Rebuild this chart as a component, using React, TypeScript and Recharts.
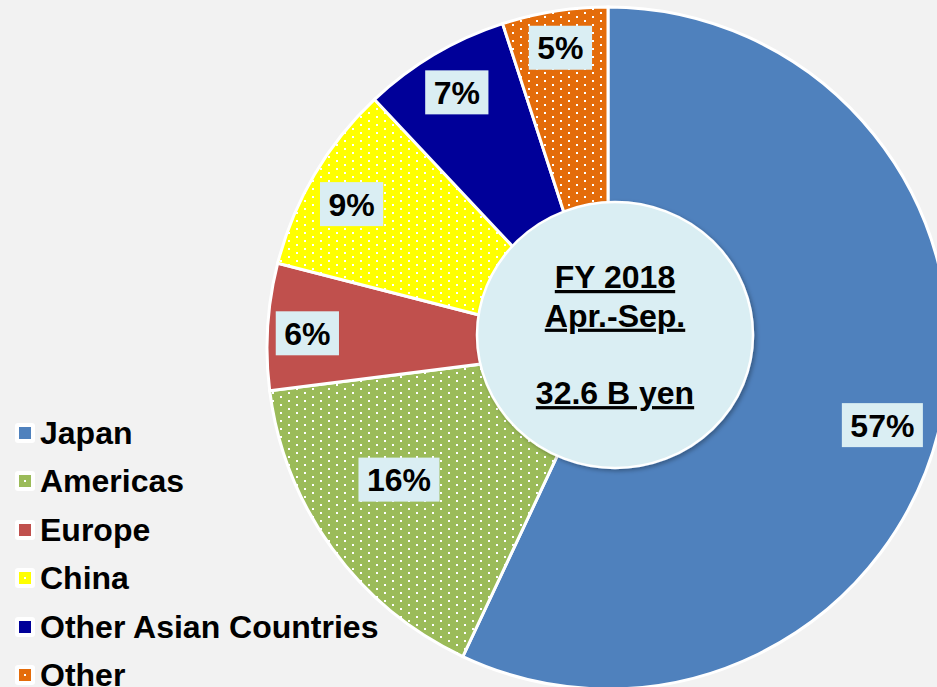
import { PieChart, Pie, Cell } from 'recharts';

const regions = ['Japan', 'Americas', 'Europe', 'China', 'Other Asian Countries', 'Other'];
const shares = [57, 16, 6, 9, 7, 5];
const colors = ['#4F81BD', '#9BBB59', '#C0504D', '#FFFF00', '#000099', '#E46C0A'];
const dotted = [false, true, false, true, false, true];
const centerLines = ['FY 2018', 'Apr.-Sep.', '', '32.6 B yen'];

const data = regions.map((name, i) => ({ name, value: shares[i] }));

const FONT = '"Liberation Sans", Arial, sans-serif';
const FS = 32;
const RAD = Math.PI / 180;

// label radius and small angle nudge per slice (Excel "best fit" placement)
const labelR = [285, 247, 301, 294, 297, 304];
const labelNudge = [-3.1, -3.8, 0.8, 1.3, 0, 0];

const renderLabel = (props: any) => {
  const { cx, cy, midAngle, index, value } = props;
  const a = (midAngle + labelNudge[index]) * RAD;
  const x = cx + labelR[index] * Math.cos(-a);
  const y = cy + labelR[index] * Math.sin(-a);
  const text = `${value}%`;
  const w = (String(value).length * 0.556 + 0.889) * FS + 17;
  return (
    <g>
      <rect x={x - w / 2} y={y - 22} width={w} height={44} fill="#DAEEF3" />
      <text
        x={x}
        y={y + 11.5}
        textAnchor="middle"
        fontFamily={FONT}
        fontWeight="bold"
        fontSize={FS}
        fill="#000"
      >
        {text}
      </text>
    </g>
  );
};

export default function App() {
  return (
    <div
      style={{
        position: 'absolute',
        left: 0,
        top: 0,
        width: 937,
        height: 687,
        background: '#F2F2F2',
        overflow: 'hidden',
      }}
    >
      <PieChart width={937} height={687} margin={{ top: 0, right: 0, bottom: 0, left: 0 }}>
        <defs>
          {colors.map((c, i) => (
            <pattern
              key={i}
              id={`dots-${i}`}
              width={16}
              height={8}
              patternUnits="userSpaceOnUse"
            >
              <rect width={16} height={8} fill={c} />
              <rect x={0} y={0} width={2} height={2} fill="#fff" />
              <rect x={8} y={4} width={2} height={2} fill="#fff" />
            </pattern>
          ))}
        </defs>
        <Pie
          data={data}
          dataKey="value"
          nameKey="name"
          cx={608}
          cy={348}
          outerRadius={341}
          startAngle={90}
          endAngle={-270}
          stroke="#fff"
          strokeWidth={3}
          label={renderLabel}
          labelLine={false}
          isAnimationActive={false}
        >
          {data.map((d, i) => (
            <Cell key={d.name} fill={dotted[i] ? `url(#dots-${i})` : colors[i]} />
          ))}
        </Pie>
      </PieChart>

      {/* centre badge */}
      <svg
        width={937}
        height={687}
        style={{ position: 'absolute', left: 0, top: 0, pointerEvents: 'none' }}
      >
        <defs>
          <filter id="badgeShadow" x="-20%" y="-20%" width="140%" height="140%">
            <feDropShadow dx={2} dy={2} stdDeviation={2} floodColor="#000" floodOpacity={0.3} />
          </filter>
        </defs>
        <ellipse
          cx={615}
          cy={335}
          rx={138}
          ry={133}
          fill="#DAEEF3"
          stroke="#fff"
          strokeWidth={2.5}
          filter="url(#badgeShadow)"
        />
        {centerLines.map((line, i) => (
          <text
            key={i}
            x={615}
            y={288 + i * 38.7}
            textAnchor="middle"
            fontFamily={FONT}
            fontWeight="bold"
            fontSize={FS}
            fill="#000"
            style={{ textDecoration: 'underline' }}
          >
            {line}
          </text>
        ))}
      </svg>

      {/* legend */}
      {regions.map((name, i) => (
        <div
          key={name}
          style={{
            position: 'absolute',
            left: 15,
            top: 433 + i * 48.4 - 18,
            height: 36,
            display: 'flex',
            alignItems: 'center',
            whiteSpace: 'nowrap',
          }}
        >
          <div
            style={{
              width: 20,
              height: 20,
              background: '#fff',
              borderRadius: 3,
              display: 'flex',
              alignItems: 'center',
              justifyContent: 'center',
              marginRight: 5,
            }}
          >
            <div
              style={{
                width: 12,
                height: 12,
                background: colors[i],
                display: 'flex',
                alignItems: 'center',
                justifyContent: 'center',
              }}
            >
              {dotted[i] && <div style={{ width: 2, height: 2, background: '#fff' }} />}
            </div>
          </div>
          <span
            style={{
              fontFamily: FONT,
              fontWeight: 'bold',
              fontSize: FS,
              lineHeight: '36px',
              color: '#000',
            }}
          >
            {name}
          </span>
        </div>
      ))}
    </div>
  );
}
